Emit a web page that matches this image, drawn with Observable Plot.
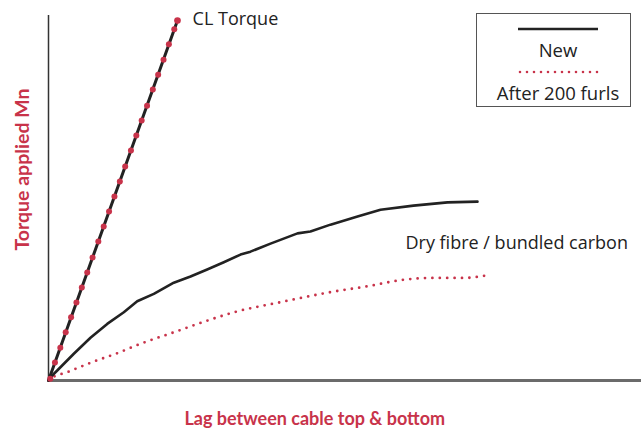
<!DOCTYPE html>
<html>
<head>
<meta charset="utf-8">
<script src="https://cdn.jsdelivr.net/npm/d3@7"></script>
<script src="https://cdn.jsdelivr.net/npm/@observablehq/plot@0.6"></script>
<style>
  html, body { margin: 0; padding: 0; background: #fff; }
  #wrap { position: relative; width: 641px; height: 436px; font-family: "Open Sans", sans-serif; }
  #legend { position: absolute; left: 476px; top: 13px; width: 155px; height: 94px; border: 1px solid #555; box-sizing: border-box; background: #fff; color: #222; }
</style>
</head>
<body>
<div id="wrap"></div>
<script>
// ---- data (arbitrary units 0-100) ----
const clTorqueLine = [
  {x: 0, y: 0}, {x: 21.75, y: 98.6}
];
const clTorqueDotsX = [0.3, 1.09, 1.99, 2.90, 3.81, 4.71, 5.62, 6.53, 7.43, 8.40, 9.31, 10.21, 11.12, 12.03, 12.93, 13.90, 14.81, 15.71, 16.62, 17.59, 18.49, 19.40, 20.30, 21.21, 21.75];
const clTorqueDotsY = [0.5, 4.9, 9.0, 13.2, 17.3, 21.4, 25.5, 29.6, 33.7, 38.1, 42.2, 46.3, 50.4, 54.5, 58.6, 63.0, 67.1, 71.2, 75.3, 79.7, 83.8, 87.9, 92.1, 96.2, 98.6];

const newX = [0, 0.34, 1.47, 4.27, 7.08, 9.90, 12.70, 14.96, 17.76, 21.13, 23.95, 26.76, 29.56, 32.38, 34.06, 37.44, 41.99, 44.17, 47.55, 52.11, 55.99, 61.55, 67.28, 72.34];
const newY = [0, 0.9, 2.74, 7.32, 11.7, 15.5, 18.7, 21.7, 23.75, 26.8, 28.5, 30.4, 32.4, 34.5, 35.3, 37.5, 40.3, 40.8, 42.7, 44.9, 46.8, 47.9, 48.8, 49.0];

const furlsX = [0, 0.34, 3.15, 7.08, 11.59, 15.51, 21.13, 26.76, 31.53, 39.12, 47.55, 53.74, 59.92, 64.42, 70.03, 74.54];
const furlsY = [0, 0.47, 2.27, 4.85, 7.48, 10.05, 13.2, 16.4, 18.8, 21.45, 24.2, 25.8, 27.6, 28.1, 28.1, 29.0];

const annotations = [
  {x: 24.3, y: 98.9, text: "CL Torque"},
  {x: 60.2, y: 37.5, text: "Dry fibre / bundled carbon"}
];
const xLabel = "Lag between cable top & bottom";
const yLabel = "Torque applied Mn";
const legendLabels = ["New", "After 200 furls"];

// ---- build tables ----
const newSeries = newX.map((x, i) => ({x, y: newY[i]}));
const furlsSeries = furlsX.map((x, i) => ({x, y: furlsY[i]}));
const dots = clTorqueDotsX.map((x, i) => ({x, y: clTorqueDotsY[i], last: i === clTorqueDotsX.length - 1}));

const RED = "#c8334a";
const INK = "#222";
const BOLD_FONT = "Lato, 'Open Sans', sans-serif";

const chart = Plot.plot({
  width: 641,
  height: 436,
  marginLeft: 48,
  marginRight: 0,
  marginTop: 15,
  marginBottom: 56,
  style: {fontFamily: "'Open Sans', sans-serif", background: "#fff"},
  x: {domain: [0, 100], axis: null},
  y: {domain: [0, 100], axis: null},
  marks: [
    Plot.ruleX([0], {stroke: "#333", strokeWidth: 1.5}),
    Plot.ruleY([0], {stroke: "#6b6b6b", strokeWidth: 3}),
    Plot.line(furlsSeries, {x: "x", y: "y", stroke: RED, strokeWidth: 2.8, strokeDasharray: "0 7.4", strokeLinecap: "round", curve: "monotone-x"}),
    Plot.line(newSeries, {x: "x", y: "y", stroke: INK, strokeWidth: 2.6, curve: "linear", strokeLinejoin: "round"}),
    Plot.line(clTorqueLine, {x: "x", y: "y", stroke: INK, strokeWidth: 3}),
    Plot.dot(dots, {x: "x", y: "y", fill: RED, stroke: "none", r: d => d.last ? 3.2 : 2.6}),
    Plot.text(annotations, {x: "x", y: "y", text: "text", textAnchor: "start", fill: INK, fontSize: 18}),
    Plot.text([xLabel], {frameAnchor: "bottom", x: 44.9, dy: 44, text: d => d, fill: RED, fontSize: 18, fontWeight: "bold", fontFamily: BOLD_FONT}),
    Plot.text([yLabel], {frameAnchor: "left", textAnchor: "middle", y: 57.8, dx: -26, rotate: -90, text: d => d, fill: RED, fontSize: 19.5, fontWeight: "bold", fontFamily: BOLD_FONT})
  ]
});

const wrap = document.getElementById("wrap");
wrap.appendChild(chart);

// legend
const legend = document.createElement("div");
legend.id = "legend";
legend.innerHTML = `
  <svg width="153" height="92" style="display:block">
    <line x1="41" x2="121" y1="15" y2="15" stroke="${INK}" stroke-width="2.5"/>
    <text x="81" y="42.6" text-anchor="middle" font-size="18.5" fill="${INK}" font-family="'Open Sans', sans-serif">${legendLabels[0]}</text>
    <line x1="43" x2="121" y1="58" y2="58" stroke="${RED}" stroke-width="2.6" stroke-dasharray="0 7" stroke-linecap="round"/>
    <text x="81" y="85.5" text-anchor="middle" font-size="18.5" fill="${INK}" font-family="'Open Sans', sans-serif">${legendLabels[1]}</text>
  </svg>`;
wrap.appendChild(legend);
</script>
</body>
</html>
